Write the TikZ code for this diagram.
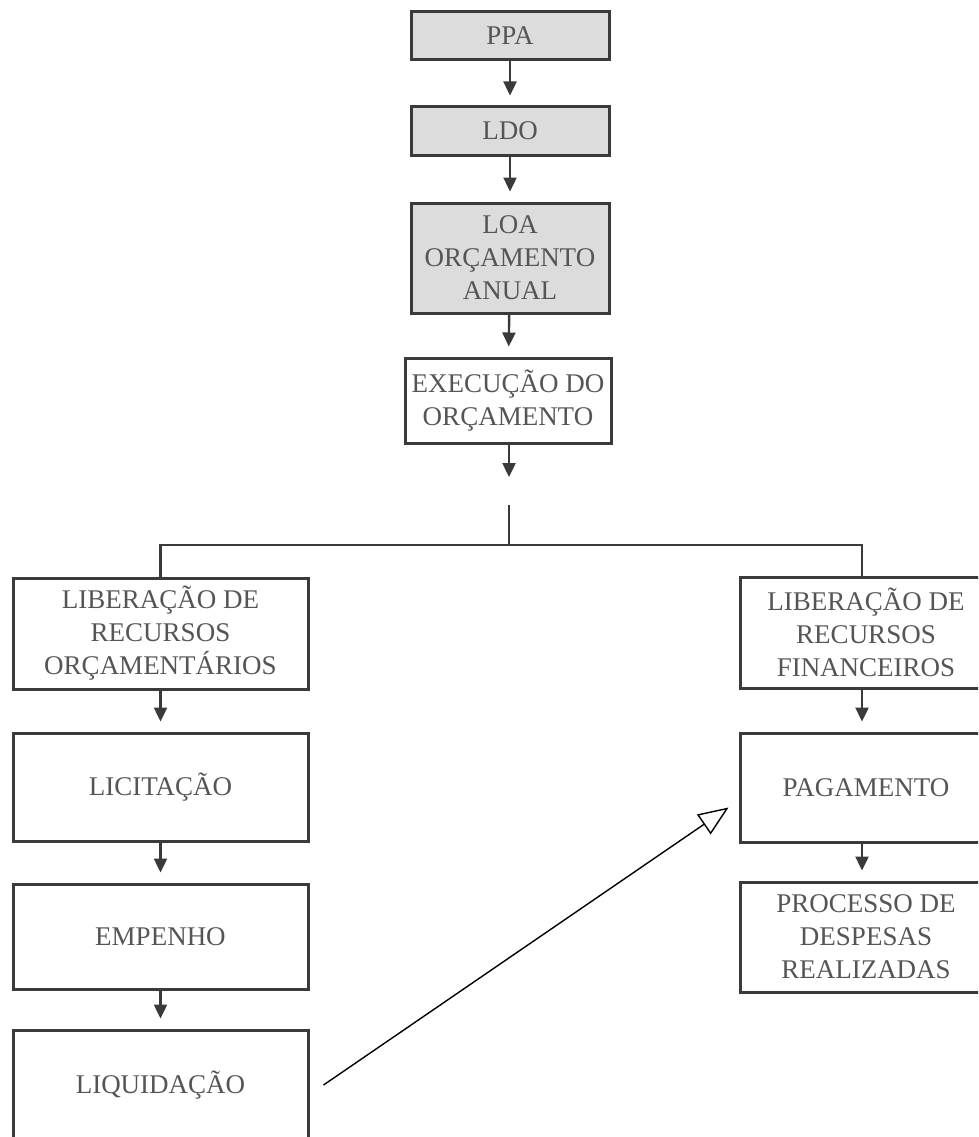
\documentclass[tikz,border=0pt]{standalone}
\usepackage{fontspec}
\setmainfont{Liberation Serif}
\usetikzlibrary{arrows.meta,calc}
\definecolor{boxfill}{HTML}{DCDCDC}
\definecolor{edge}{HTML}{3A3A3A}
\definecolor{txt}{HTML}{555555}
\begin{document}
\begin{tikzpicture}[x=1pt,y=-1pt,
  box/.style={draw=edge,line width=3pt,align=center,text=txt,inner sep=0pt,
    font=\fontsize{27}{33}\selectfont},
  topbox/.style={box,fill=boxfill,minimum width=198pt},
  leftbox/.style={box,minimum width=295pt},
  rightbox/.style={box,minimum width=252pt},
  flow/.style={draw=edge,line width=2.4pt,-{Triangle[length=14pt,width=13pt]},shorten >=10pt},
  link/.style={draw=edge,line width=2.4pt},
  cross/.style={draw=black,line width=1.4pt,-{Triangle[open,length=30pt,width=24pt,line width=1.4pt]}}
]
\useasboundingbox (0,0) rectangle (978,1137);
\clip (0,0) rectangle (978,1137);
\fill[white] (0,0) rectangle (978,1137);
% top column
\node[topbox,minimum height=48pt] (ppa) at (510,36) {PPA};
\node[topbox,minimum height=48pt] (ldo) at (510,131) {LDO};
\node[topbox,minimum height=110pt] (loa) at (510,258) {LOA\\ORÇAMENTO\\ANUAL};
\node[box,minimum width=206pt,minimum height=85pt] (exe) at (508,400.5) {EXECUÇÃO DO\\ORÇAMENTO};
% left column
\node[leftbox,minimum height=111pt] (lro) at (160.5,633.5) {LIBERAÇÃO DE\\RECURSOS\\ORÇAMENTÁRIOS};
\node[leftbox,minimum height=108pt] (lic) at (160.5,787) {LICITAÇÃO};
\node[leftbox,minimum height=105pt] (emp) at (160.5,936.5) {EMPENHO};
\node[leftbox,minimum height=110pt] (liq) at (160.5,1085) {LIQUIDAÇÃO};
% right column
\node[rightbox,minimum height=111pt] (lrf) at (866,632.5) {LIBERAÇÃO DE\\RECURSOS\\FINANCEIROS};
\node[rightbox,minimum height=109pt] (pag) at (866,787.5) {PAGAMENTO};
\node[rightbox,minimum height=110pt] (pro) at (866,937) {PROCESSO DE\\DESPESAS\\REALIZADAS};
% branch points
\coordinate (e1) at (509,487);
\coordinate (j0) at (509,505);
\coordinate (j1) at (509,545);
\coordinate (rj) at (862,545);
% arrows
\draw[flow] (ppa) -- (ldo);
\draw[flow] (ldo) -- (loa);
\draw[flow] (loa) -- (exe);
\draw[flow] (exe.south -| e1) -- (e1);
\draw[link] (j0) -- (j1);
\draw[link] (lro.north) |- (j1) -- (rj) -- (rj |- lrf.north);
\draw[flow] (lro) -- (lic);
\draw[flow] (lic) -- (emp);
\draw[flow] (emp) -- (liq);
\draw[flow] (lrf.south -| rj) -- (pag.north -| rj);
\draw[flow] (pag.south -| rj) -- (pro.north -| rj);
\draw[cross] ($(liq.east)+(14,0)$) -- ($(pag.west)+(-10,20)$);
\end{tikzpicture}
\end{document}
